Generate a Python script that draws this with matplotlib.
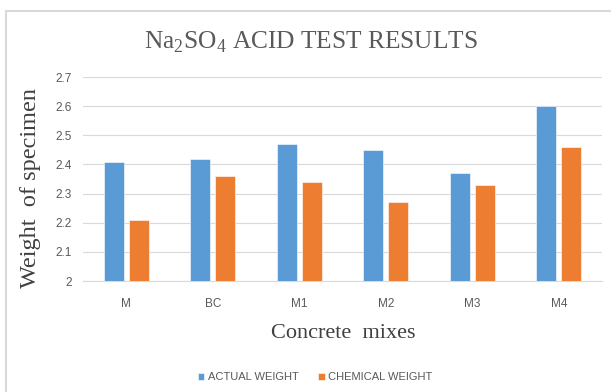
import matplotlib.pyplot as plt
import numpy as np
from matplotlib.patches import Rectangle

# Data
mixes = ["M", "BC", "M1", "M2", "M3", "M4"]
actual_weight = [2.41, 2.42, 2.47, 2.45, 2.37, 2.60]
chemical_weight = [2.21, 2.36, 2.34, 2.27, 2.33, 2.46]
y_ticks = [2, 2.1, 2.2, 2.3, 2.4, 2.5, 2.6, 2.7]

BLUE = "#5B9BD5"
ORANGE = "#ED7D31"
GRID = "#D9D9D9"
TXT = "#595959"

plt.rcParams["mathtext.fontset"] = "custom"
plt.rcParams["mathtext.rm"] = "Liberation Serif"

W, H = 611, 392
fig = plt.figure(figsize=(W / 100, H / 100), dpi=100)
ax = fig.add_axes([83 / W, 1 - 281 / H, (602 - 83) / W, (281 - 77) / H])

x = np.arange(len(mixes))
bw = 0.23
off = 0.145
ax.bar(x - off, actual_weight, bw, color=BLUE, label="ACTUAL WEIGHT",
       edgecolor="white", linewidth=0.4, zorder=3)
ax.bar(x + off, chemical_weight, bw, color=ORANGE, label="CHEMICAL WEIGHT",
       edgecolor="white", linewidth=0.4, zorder=3)

ax.set_xlim(-0.5, len(mixes) - 0.5)
ax.set_ylim(2, 2.7)
ax.set_yticks(y_ticks)
ax.set_yticklabels([f"{v:g}" for v in y_ticks])
ax.set_xticks(x)
ax.set_xticklabels(mixes)
ax.grid(axis="y", color=GRID, linewidth=0.8, zorder=0)
for s in ["top", "right", "left"]:
    ax.spines[s].set_visible(False)
ax.spines["bottom"].set_color(GRID)
ax.spines["bottom"].set_linewidth(0.8)
ax.tick_params(length=0, colors=TXT, labelsize=8.5)
ax.tick_params(axis="y", pad=8)
ax.tick_params(axis="x", pad=12)
for lab in ax.get_xticklabels() + ax.get_yticklabels():
    lab.set_family("Liberation Sans")

# titles and axis labels in serif
fig.text(311 / W, 1 - 49 / H, r"Na$_\mathregular{2}$SO$_\mathregular{4}$ ACID TEST RESULTS",
         ha="center", va="baseline", fontsize=18.3, family="Liberation Serif", color=TXT)
fig.text(343 / W, 1 - 338 / H, "Concrete  mixes", ha="center", va="baseline",
         fontsize=16, family="Liberation Serif", color="#404040")
fig.text(31 / W, 1 - 188 / H, "Weight  of specimen", ha="center", va="center",
         rotation=90, fontsize=17.5, family="Liberation Serif", color="#404040")

leg = fig.legend(loc="center", bbox_to_anchor=(315 / W, 1 - 377 / H), ncol=2,
                 frameon=False, handlelength=0.6, handleheight=0.6,
                 handletextpad=0.3, columnspacing=1.8,
                 prop={"family": "Liberation Sans", "size": 8})
for t in leg.get_texts():
    t.set_color(TXT)

# chart border (only top and left edges visible in the crop)
fig.patches.append(Rectangle((6 / W, -0.1), 1.2, 1.1 - 11 / H, transform=fig.transFigure,
                             fill=False, edgecolor=GRID, linewidth=1.5))

fig.savefig("out.png", dpi=100)
